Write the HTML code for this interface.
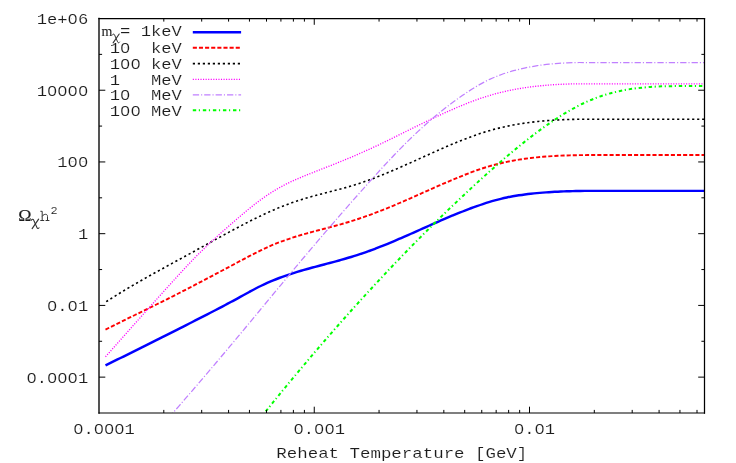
<!DOCTYPE html>
<html><head><meta charset="utf-8"><title>Relic density vs reheat temperature</title>
<style>html,body{margin:0;padding:0;background:#fff;}svg{display:block;}text{font-family:"Liberation Mono",monospace;fill:#1c1c1c;stroke:#fff;stroke-width:0.12px;}.ser{font-family:"Liberation Serif",serif;}</style>
</head><body>
<svg width="736" height="463" viewBox="0 0 736 463">
<rect x="0" y="0" width="736" height="463" fill="#ffffff"/>
<defs><clipPath id="clip"><rect x="99.00" y="18.50" width="605.50" height="394.50"/></clipPath></defs>
<g clip-path="url(#clip)" fill="none" stroke-linejoin="round">
<path d="M105.50 365.30 C107.50 364.34 109.49 363.37 111.49 362.39 C113.49 361.42 115.48 360.44 117.48 359.47 C119.48 358.49 121.47 357.51 123.47 356.53 C125.47 355.55 127.46 354.56 129.46 353.58 C131.46 352.59 133.45 351.60 135.45 350.61 C137.45 349.62 139.44 348.63 141.44 347.64 C143.44 346.65 145.43 345.65 147.43 344.65 C149.43 343.66 151.42 342.66 153.42 341.66 C155.42 340.66 157.41 339.66 159.41 338.65 C161.41 337.65 163.40 336.65 165.40 335.64 C167.40 334.63 169.39 333.63 171.39 332.62 C173.39 331.61 175.38 330.60 177.38 329.59 C179.38 328.58 181.37 327.57 183.37 326.55 C185.37 325.54 187.36 324.53 189.36 323.51 C191.36 322.49 193.35 321.48 195.35 320.46 C197.35 319.44 199.34 318.43 201.34 317.41 C203.34 316.39 205.33 315.36 207.33 314.34 C209.33 313.31 211.32 312.29 213.32 311.25 C215.32 310.22 217.31 309.18 219.31 308.14 C221.31 307.09 223.30 306.04 225.30 304.99 C227.30 303.93 229.29 302.87 231.29 301.79 C233.29 300.72 235.28 299.64 237.28 298.55 C239.28 297.46 241.27 296.35 243.27 295.26 C245.27 294.16 247.26 293.05 249.26 291.97 C251.26 290.89 253.25 289.81 255.25 288.78 C257.25 287.74 259.24 286.72 261.24 285.75 C263.24 284.77 265.23 283.84 267.23 282.94 C269.23 282.05 271.22 281.20 273.22 280.37 C275.22 279.55 277.21 278.77 279.21 278.01 C281.21 277.26 283.20 276.53 285.20 275.83 C287.20 275.13 289.19 274.46 291.19 273.81 C293.19 273.16 295.18 272.53 297.18 271.92 C299.18 271.32 301.17 270.73 303.17 270.15 C305.17 269.57 307.16 269.01 309.16 268.46 C311.16 267.91 313.15 267.37 315.15 266.83 C317.15 266.29 319.14 265.77 321.14 265.24 C323.14 264.71 325.13 264.19 327.13 263.66 C329.13 263.14 331.12 262.61 333.12 262.08 C335.12 261.54 337.11 261.01 339.11 260.46 C341.11 259.91 343.10 259.35 345.10 258.77 C347.10 258.20 349.09 257.62 351.09 257.01 C353.09 256.41 355.08 255.78 357.08 255.14 C359.08 254.50 361.07 253.83 363.07 253.14 C365.07 252.46 367.06 251.74 369.06 251.02 C371.06 250.29 373.05 249.55 375.05 248.78 C377.05 248.02 379.04 247.24 381.04 246.45 C383.04 245.66 385.03 244.85 387.03 244.03 C389.03 243.21 391.02 242.38 393.02 241.54 C395.02 240.70 397.01 239.85 399.01 238.99 C401.01 238.13 403.00 237.26 405.00 236.39 C407.00 235.51 408.99 234.63 410.99 233.75 C412.99 232.87 414.98 231.98 416.98 231.09 C418.98 230.20 420.97 229.31 422.97 228.42 C424.97 227.53 426.96 226.64 428.96 225.75 C430.96 224.87 432.95 223.98 434.95 223.10 C436.95 222.23 438.94 221.35 440.94 220.48 C442.94 219.61 444.93 218.75 446.93 217.90 C448.93 217.05 450.92 216.20 452.92 215.37 C454.92 214.54 456.91 213.72 458.91 212.91 C460.91 212.11 462.90 211.31 464.90 210.54 C466.90 209.76 468.89 209.00 470.89 208.25 C472.89 207.51 474.88 206.79 476.88 206.09 C478.88 205.39 480.87 204.70 482.87 204.05 C484.87 203.40 486.86 202.76 488.86 202.16 C490.86 201.55 492.85 200.97 494.85 200.43 C496.85 199.88 498.84 199.36 500.84 198.87 C502.84 198.39 504.83 197.93 506.83 197.51 C508.83 197.09 510.82 196.69 512.82 196.33 C514.82 195.96 516.81 195.62 518.81 195.31 C520.81 195.00 522.80 194.71 524.80 194.45 C526.80 194.19 528.79 193.94 530.79 193.72 C532.79 193.50 534.78 193.29 536.78 193.11 C538.78 192.92 540.77 192.75 542.77 192.60 C544.77 192.44 546.76 192.30 548.76 192.17 C550.76 192.04 552.75 191.93 554.75 191.82 C556.75 191.71 558.74 191.61 560.74 191.53 C562.74 191.44 564.73 191.36 566.73 191.29 C568.73 191.22 570.72 191.16 572.72 191.11 C574.72 191.05 576.71 191.01 578.71 190.97 C580.71 190.93 582.70 190.87 584.70 190.87 C586.70 190.87 588.69 190.87 590.69 190.87 C592.69 190.87 594.68 190.87 596.68 190.87 C598.68 190.87 600.67 190.87 602.67 190.87 C604.67 190.87 606.66 190.87 608.66 190.87 C610.66 190.87 612.65 190.87 614.65 190.87 C616.65 190.87 618.64 190.87 620.64 190.87 C622.64 190.87 624.63 190.87 626.63 190.87 C628.63 190.87 630.62 190.87 632.62 190.87 C634.62 190.87 636.61 190.87 638.61 190.87 C640.61 190.87 642.60 190.87 644.60 190.87 C646.60 190.87 648.59 190.87 650.59 190.87 C652.59 190.87 654.58 190.87 656.58 190.87 C658.58 190.87 660.57 190.87 662.57 190.87 C664.57 190.87 666.56 190.87 668.56 190.87 C670.56 190.87 672.55 190.87 674.55 190.87 C676.55 190.87 678.54 190.87 680.54 190.87 C682.54 190.87 684.53 190.87 686.53 190.87 C688.53 190.87 690.52 190.87 692.52 190.87 C694.52 190.87 696.51 190.87 698.51 190.87 C700.51 190.87 702.50 190.87 704.50 190.87" stroke="#0000ff" stroke-width="2.45"/>
<path d="M105.50 329.58 C107.50 328.57 109.49 327.57 111.49 326.57 C113.49 325.58 115.48 324.58 117.48 323.59 C119.48 322.60 121.47 321.62 123.47 320.64 C125.47 319.65 127.46 318.67 129.46 317.70 C131.46 316.72 133.45 315.74 135.45 314.76 C137.45 313.79 139.44 312.81 141.44 311.84 C143.44 310.86 145.43 309.89 147.43 308.91 C149.43 307.93 151.42 306.95 153.42 305.97 C155.42 304.98 157.41 304.00 159.41 303.01 C161.41 302.02 163.40 301.03 165.40 300.03 C167.40 299.04 169.39 298.04 171.39 297.03 C173.39 296.02 175.38 295.01 177.38 293.99 C179.38 292.97 181.37 291.95 183.37 290.92 C185.37 289.90 187.36 288.86 189.36 287.83 C191.36 286.79 193.35 285.75 195.35 284.71 C197.35 283.67 199.34 282.62 201.34 281.58 C203.34 280.53 205.33 279.48 207.33 278.42 C209.33 277.37 211.32 276.31 213.32 275.26 C215.32 274.20 217.31 273.14 219.31 272.08 C221.31 271.02 223.30 269.96 225.30 268.90 C227.30 267.84 229.29 266.78 231.29 265.72 C233.29 264.65 235.28 263.59 237.28 262.53 C239.28 261.47 241.27 260.41 243.27 259.35 C245.27 258.30 247.26 257.25 249.26 256.21 C251.26 255.18 253.25 254.15 255.25 253.14 C257.25 252.14 259.24 251.15 261.24 250.19 C263.24 249.22 265.23 248.28 267.23 247.37 C269.23 246.47 271.22 245.58 273.22 244.74 C275.22 243.90 277.21 243.10 279.21 242.33 C281.21 241.55 283.20 240.82 285.20 240.11 C287.20 239.40 289.19 238.72 291.19 238.07 C293.19 237.41 295.18 236.78 297.18 236.17 C299.18 235.56 301.17 234.97 303.17 234.40 C305.17 233.82 307.16 233.27 309.16 232.72 C311.16 232.17 313.15 231.64 315.15 231.10 C317.15 230.57 319.14 230.05 321.14 229.53 C323.14 229.00 325.13 228.49 327.13 227.96 C329.13 227.44 331.12 226.91 333.12 226.38 C335.12 225.84 337.11 225.30 339.11 224.74 C341.11 224.19 343.10 223.62 345.10 223.04 C347.10 222.45 349.09 221.85 351.09 221.23 C353.09 220.61 355.08 219.97 357.08 219.31 C359.08 218.65 361.07 217.98 363.07 217.29 C365.07 216.60 367.06 215.89 369.06 215.17 C371.06 214.45 373.05 213.71 375.05 212.96 C377.05 212.21 379.04 211.44 381.04 210.65 C383.04 209.87 385.03 209.07 387.03 208.26 C389.03 207.45 391.02 206.62 393.02 205.79 C395.02 204.95 397.01 204.10 399.01 203.25 C401.01 202.39 403.00 201.53 405.00 200.66 C407.00 199.79 408.99 198.91 410.99 198.03 C412.99 197.15 414.98 196.26 416.98 195.38 C418.98 194.49 420.97 193.60 422.97 192.71 C424.97 191.82 426.96 190.93 428.96 190.04 C430.96 189.15 432.95 188.26 434.95 187.38 C436.95 186.50 438.94 185.62 440.94 184.75 C442.94 183.88 444.93 183.01 446.93 182.16 C448.93 181.30 450.92 180.45 452.92 179.61 C454.92 178.77 456.91 177.94 458.91 177.13 C460.91 176.32 462.90 175.52 464.90 174.74 C466.90 173.95 468.89 173.18 470.89 172.44 C472.89 171.70 474.88 170.97 476.88 170.27 C478.88 169.57 480.87 168.89 482.87 168.25 C484.87 167.60 486.86 166.97 488.86 166.38 C490.86 165.80 492.85 165.23 494.85 164.71 C496.85 164.18 498.84 163.68 500.84 163.21 C502.84 162.74 504.83 162.29 506.83 161.88 C508.83 161.46 510.82 161.07 512.82 160.71 C514.82 160.34 516.81 160.00 518.81 159.68 C520.81 159.36 522.80 159.06 524.80 158.78 C526.80 158.51 528.79 158.25 530.79 158.01 C532.79 157.77 534.78 157.55 536.78 157.35 C538.78 157.15 540.77 156.97 542.77 156.80 C544.77 156.63 546.76 156.48 548.76 156.34 C550.76 156.20 552.75 156.07 554.75 155.96 C556.75 155.85 558.74 155.75 560.74 155.67 C562.74 155.58 564.73 155.51 566.73 155.44 C568.73 155.38 570.72 155.32 572.72 155.27 C574.72 155.23 576.71 155.19 578.71 155.16 C580.71 155.13 582.70 155.10 584.70 155.09 C586.70 155.07 588.69 155.05 590.69 155.05 C592.69 155.04 594.68 155.03 596.68 155.03 C598.68 155.03 600.67 155.03 602.67 155.03 C604.67 155.03 606.66 155.03 608.66 155.03 C610.66 155.03 612.65 155.03 614.65 155.03 C616.65 155.03 618.64 155.03 620.64 155.03 C622.64 155.03 624.63 155.03 626.63 155.03 C628.63 155.03 630.62 155.03 632.62 155.03 C634.62 155.03 636.61 155.03 638.61 155.03 C640.61 155.03 642.60 155.02 644.60 155.02 C646.60 155.01 648.59 155.01 650.59 155.00 C652.59 155.00 654.58 155.00 656.58 155.00 C658.58 155.00 660.57 155.00 662.57 155.00 C664.57 155.00 666.56 155.00 668.56 155.00 C670.56 155.00 672.55 155.00 674.55 155.00 C676.55 155.00 678.54 155.00 680.54 155.00 C682.54 155.00 684.53 155.00 686.53 155.00 C688.53 155.00 690.52 155.00 692.52 155.00 C694.52 155.00 696.51 155.00 698.51 155.00 C700.51 155.00 702.50 155.00 704.50 155.00" stroke="#ff0000" stroke-width="1.90" stroke-dasharray="4.1 2.03"/>
<path d="M106.20 301.68 C108.19 300.40 110.19 299.12 112.18 297.87 C114.18 296.61 116.17 295.37 118.17 294.15 C120.16 292.92 122.15 291.71 124.15 290.51 C126.14 289.31 128.14 288.12 130.13 286.95 C132.13 285.77 134.12 284.61 136.12 283.45 C138.11 282.30 140.10 281.15 142.10 280.02 C144.09 278.88 146.09 277.75 148.08 276.63 C150.08 275.51 152.07 274.40 154.06 273.29 C156.06 272.18 158.05 271.08 160.05 269.98 C162.04 268.88 164.04 267.78 166.03 266.69 C168.02 265.60 170.02 264.51 172.01 263.42 C174.01 262.33 176.00 261.25 178.00 260.16 C179.99 259.07 181.98 257.99 183.98 256.90 C185.97 255.81 187.97 254.72 189.96 253.63 C191.96 252.53 193.95 251.44 195.94 250.34 C197.94 249.24 199.93 248.14 201.93 247.03 C203.92 245.93 205.92 244.83 207.91 243.72 C209.91 242.62 211.90 241.52 213.89 240.42 C215.89 239.32 217.88 238.22 219.88 237.13 C221.87 236.04 223.87 234.95 225.86 233.86 C227.85 232.78 229.85 231.70 231.84 230.63 C233.84 229.56 235.83 228.50 237.83 227.44 C239.82 226.39 241.81 225.35 243.81 224.31 C245.80 223.28 247.80 222.25 249.79 221.24 C251.79 220.23 253.78 219.23 255.77 218.25 C257.77 217.27 259.76 216.30 261.76 215.36 C263.75 214.41 265.75 213.48 267.74 212.57 C269.74 211.66 271.73 210.77 273.72 209.90 C275.72 209.04 277.71 208.19 279.71 207.38 C281.70 206.56 283.70 205.77 285.69 205.00 C287.68 204.24 289.68 203.50 291.67 202.80 C293.67 202.09 295.66 201.42 297.66 200.76 C299.65 200.11 301.64 199.49 303.64 198.88 C305.63 198.28 307.63 197.69 309.62 197.13 C311.62 196.56 313.61 196.02 315.61 195.48 C317.60 194.94 319.59 194.42 321.59 193.90 C323.58 193.38 325.58 192.87 327.57 192.36 C329.57 191.85 331.56 191.34 333.55 190.82 C335.55 190.31 337.54 189.79 339.54 189.25 C341.53 188.72 343.53 188.18 345.52 187.62 C347.51 187.06 349.51 186.48 351.50 185.88 C353.50 185.28 355.49 184.66 357.49 184.02 C359.48 183.37 361.47 182.70 363.47 182.01 C365.46 181.32 367.46 180.60 369.45 179.87 C371.45 179.14 373.44 178.39 375.43 177.62 C377.43 176.85 379.42 176.07 381.42 175.27 C383.41 174.47 385.41 173.65 387.40 172.82 C389.40 171.99 391.39 171.15 393.38 170.30 C395.38 169.44 397.37 168.58 399.37 167.70 C401.36 166.83 403.36 165.94 405.35 165.06 C407.34 164.17 409.34 163.27 411.33 162.37 C413.33 161.47 415.32 160.57 417.32 159.66 C419.31 158.76 421.30 157.85 423.30 156.95 C425.29 156.04 427.29 155.14 429.28 154.24 C431.28 153.34 433.27 152.44 435.26 151.55 C437.26 150.66 439.25 149.77 441.25 148.89 C443.24 148.02 445.24 147.15 447.23 146.29 C449.23 145.44 451.22 144.59 453.21 143.76 C455.21 142.92 457.20 142.10 459.20 141.30 C461.19 140.50 463.19 139.71 465.18 138.94 C467.17 138.17 469.17 137.42 471.16 136.69 C473.16 135.96 475.15 135.25 477.15 134.56 C479.14 133.88 481.13 133.21 483.13 132.57 C485.12 131.94 487.12 131.32 489.11 130.74 C491.11 130.16 493.10 129.60 495.09 129.08 C497.09 128.55 499.08 128.05 501.08 127.58 C503.07 127.11 505.07 126.66 507.06 126.23 C509.06 125.81 511.05 125.41 513.04 125.04 C515.04 124.66 517.03 124.31 519.03 123.98 C521.02 123.65 523.02 123.34 525.01 123.05 C527.00 122.77 529.00 122.50 530.99 122.25 C532.99 122.00 534.98 121.77 536.98 121.56 C538.97 121.35 540.96 121.16 542.96 120.98 C544.95 120.80 546.95 120.64 548.94 120.49 C550.94 120.35 552.93 120.22 554.92 120.10 C556.92 119.98 558.91 119.88 560.91 119.78 C562.90 119.69 564.90 119.61 566.89 119.54 C568.89 119.48 570.88 119.41 572.87 119.37 C574.87 119.32 576.86 119.27 578.86 119.25 C580.85 119.22 582.85 119.20 584.84 119.20 C586.83 119.20 588.83 119.20 590.82 119.20 C592.82 119.20 594.81 119.20 596.81 119.20 C598.80 119.20 600.79 119.20 602.79 119.20 C604.78 119.20 606.78 119.20 608.77 119.20 C610.77 119.20 612.76 119.20 614.75 119.20 C616.75 119.20 618.74 119.20 620.74 119.20 C622.73 119.20 624.73 119.20 626.72 119.20 C628.72 119.20 630.71 119.20 632.70 119.20 C634.70 119.20 636.69 119.20 638.69 119.20 C640.68 119.20 642.68 119.20 644.67 119.20 C646.66 119.20 648.66 119.20 650.65 119.20 C652.65 119.20 654.64 119.20 656.64 119.20 C658.63 119.20 660.62 119.20 662.62 119.20 C664.61 119.20 666.61 119.20 668.60 119.20 C670.60 119.20 672.59 119.20 674.59 119.20 C676.58 119.20 678.57 119.20 680.57 119.20 C682.56 119.20 684.56 119.20 686.55 119.20 C688.55 119.20 690.54 119.20 692.53 119.20 C694.53 119.20 696.52 119.20 698.52 119.20 C700.51 119.20 702.51 119.20 704.50 119.20" stroke="#000000" stroke-width="1.60" stroke-dasharray="2.2 2.8"/>
<path d="M105.50 356.79 C107.50 354.53 109.49 352.28 111.49 350.02 C113.49 347.77 115.48 345.52 117.48 343.26 C119.48 341.01 121.47 338.75 123.47 336.50 C125.47 334.25 127.46 332.00 129.46 329.75 C131.46 327.50 133.45 325.26 135.45 323.01 C137.45 320.77 139.44 318.52 141.44 316.28 C143.44 314.04 145.43 311.80 147.43 309.57 C149.43 307.34 151.42 305.11 153.42 302.88 C155.42 300.65 157.41 298.43 159.41 296.21 C161.41 293.99 163.40 291.77 165.40 289.56 C167.40 287.35 169.39 285.15 171.39 282.95 C173.39 280.75 175.38 278.55 177.38 276.37 C179.38 274.18 181.37 272.00 183.37 269.85 C185.37 267.69 187.36 265.55 189.36 263.45 C191.36 261.35 193.35 259.27 195.35 257.23 C197.35 255.20 199.34 253.20 201.34 251.25 C203.34 249.29 205.33 247.37 207.33 245.48 C209.33 243.59 211.32 241.73 213.32 239.89 C215.32 238.05 217.31 236.25 219.31 234.46 C221.31 232.66 223.30 230.90 225.30 229.14 C227.30 227.38 229.29 225.64 231.29 223.90 C233.29 222.16 235.28 220.43 237.28 218.72 C239.28 217.00 241.27 215.29 243.27 213.61 C245.27 211.93 247.26 210.26 249.26 208.64 C251.26 207.02 253.25 205.42 255.25 203.87 C257.25 202.33 259.24 200.81 261.24 199.37 C263.24 197.92 265.23 196.52 267.23 195.18 C269.23 193.84 271.22 192.55 273.22 191.32 C275.22 190.09 277.21 188.91 279.21 187.78 C281.21 186.65 283.20 185.57 285.20 184.55 C287.20 183.52 289.19 182.55 291.19 181.61 C293.19 180.67 295.18 179.78 297.18 178.91 C299.18 178.05 301.17 177.22 303.17 176.40 C305.17 175.58 307.16 174.78 309.16 173.99 C311.16 173.20 313.15 172.42 315.15 171.63 C317.15 170.85 319.14 170.08 321.14 169.30 C323.14 168.52 325.13 167.74 327.13 166.96 C329.13 166.18 331.12 165.39 333.12 164.60 C335.12 163.80 337.11 163.00 339.11 162.19 C341.11 161.38 343.10 160.56 345.10 159.74 C347.10 158.91 349.09 158.07 351.09 157.23 C353.09 156.38 355.08 155.53 357.08 154.66 C359.08 153.79 361.07 152.92 363.07 152.03 C365.07 151.15 367.06 150.25 369.06 149.34 C371.06 148.43 373.05 147.51 375.05 146.58 C377.05 145.65 379.04 144.71 381.04 143.76 C383.04 142.80 385.03 141.83 387.03 140.86 C389.03 139.88 391.02 138.89 393.02 137.90 C395.02 136.91 397.01 135.92 399.01 134.92 C401.01 133.93 403.00 132.93 405.00 131.94 C407.00 130.95 408.99 129.96 410.99 128.98 C412.99 128.00 414.98 127.02 416.98 126.04 C418.98 125.07 420.97 124.10 422.97 123.13 C424.97 122.17 426.96 121.20 428.96 120.25 C430.96 119.30 432.95 118.35 434.95 117.41 C436.95 116.47 438.94 115.54 440.94 114.62 C442.94 113.70 444.93 112.78 446.93 111.88 C448.93 110.99 450.92 110.10 452.92 109.23 C454.92 108.36 456.91 107.50 458.91 106.66 C460.91 105.82 462.90 105.00 464.90 104.20 C466.90 103.40 468.89 102.61 470.89 101.85 C472.89 101.09 474.88 100.35 476.88 99.64 C478.88 98.93 480.87 98.24 482.87 97.59 C484.87 96.93 486.86 96.29 488.86 95.69 C490.86 95.09 492.85 94.52 494.85 93.97 C496.85 93.43 498.84 92.91 500.84 92.42 C502.84 91.93 504.83 91.47 506.83 91.03 C508.83 90.59 510.82 90.18 512.82 89.79 C514.82 89.40 516.81 89.03 518.81 88.69 C520.81 88.35 522.80 88.03 524.80 87.73 C526.80 87.43 528.79 87.15 530.79 86.89 C532.79 86.64 534.78 86.40 536.78 86.18 C538.78 85.96 540.77 85.75 542.77 85.57 C544.77 85.38 546.76 85.21 548.76 85.06 C550.76 84.91 552.75 84.77 554.75 84.65 C556.75 84.53 558.74 84.41 560.74 84.32 C562.74 84.22 564.73 84.14 566.73 84.07 C568.73 83.99 570.72 83.92 572.72 83.88 C574.72 83.84 576.71 83.80 578.71 83.80 C580.71 83.80 582.70 83.80 584.70 83.80 C586.70 83.80 588.69 83.80 590.69 83.80 C592.69 83.80 594.68 83.80 596.68 83.80 C598.68 83.80 600.67 83.80 602.67 83.80 C604.67 83.80 606.66 83.80 608.66 83.80 C610.66 83.80 612.65 83.80 614.65 83.80 C616.65 83.80 618.64 83.80 620.64 83.80 C622.64 83.80 624.63 83.80 626.63 83.80 C628.63 83.80 630.62 83.80 632.62 83.80 C634.62 83.80 636.61 83.80 638.61 83.80 C640.61 83.80 642.60 83.80 644.60 83.80 C646.60 83.80 648.59 83.80 650.59 83.80 C652.59 83.80 654.58 83.80 656.58 83.80 C658.58 83.80 660.57 83.80 662.57 83.80 C664.57 83.80 666.56 83.80 668.56 83.80 C670.56 83.80 672.55 83.80 674.55 83.80 C676.55 83.80 678.54 83.80 680.54 83.80 C682.54 83.80 684.53 83.80 686.53 83.80 C688.53 83.80 690.52 83.80 692.52 83.80 C694.52 83.80 696.51 83.80 698.51 83.80 C700.51 83.80 702.50 83.80 704.50 83.80" stroke="#ff00ff" stroke-width="1.35" stroke-dasharray="1.1 1.46"/>
<path d="M161.40 426.21 L173.40 412.45 C175.39 410.17 177.38 407.88 179.37 405.59 C181.36 403.30 183.35 401.00 185.33 398.70 C187.32 396.40 189.31 394.10 191.30 391.79 C193.29 389.48 195.28 387.16 197.27 384.84 C199.26 382.52 201.25 380.20 203.24 377.87 C205.23 375.54 207.22 373.20 209.20 370.86 C211.19 368.53 213.18 366.18 215.17 363.83 C217.16 361.48 219.15 359.13 221.14 356.77 C223.13 354.41 225.12 352.05 227.11 349.68 C229.10 347.32 231.09 344.94 233.07 342.57 C235.06 340.19 237.05 337.81 239.04 335.42 C241.03 333.03 243.02 330.64 245.01 328.25 C247.00 325.85 248.99 323.45 250.98 321.06 C252.97 318.66 254.95 316.25 256.94 313.85 C258.93 311.45 260.92 309.04 262.91 306.64 C264.90 304.23 266.89 301.83 268.88 299.43 C270.87 297.02 272.86 294.62 274.85 292.22 C276.84 289.82 278.82 287.42 280.81 285.03 C282.80 282.63 284.79 280.24 286.78 277.86 C288.77 275.47 290.76 273.09 292.75 270.71 C294.74 268.33 296.73 265.96 298.72 263.59 C300.70 261.22 302.69 258.86 304.68 256.50 C306.67 254.14 308.66 251.79 310.65 249.44 C312.64 247.09 314.63 244.75 316.62 242.41 C318.61 240.08 320.60 237.75 322.59 235.42 C324.57 233.10 326.56 230.78 328.55 228.47 C330.54 226.15 332.53 223.85 334.52 221.55 C336.51 219.25 338.50 216.96 340.49 214.67 C342.48 212.38 344.47 210.10 346.46 207.83 C348.44 205.56 350.43 203.29 352.42 201.03 C354.41 198.77 356.40 196.52 358.39 194.28 C360.38 192.03 362.37 189.80 364.36 187.57 C366.35 185.34 368.34 183.12 370.32 180.90 C372.31 178.69 374.30 176.49 376.29 174.30 C378.28 172.11 380.27 169.93 382.26 167.78 C384.25 165.62 386.24 163.47 388.23 161.35 C390.22 159.23 392.21 157.12 394.19 155.04 C396.18 152.96 398.17 150.91 400.16 148.88 C402.15 146.85 404.14 144.84 406.13 142.87 C408.12 140.90 410.11 138.95 412.10 137.04 C414.09 135.13 416.07 133.25 418.06 131.40 C420.05 129.55 422.04 127.73 424.03 125.94 C426.02 124.15 428.01 122.39 430.00 120.67 C431.99 118.95 433.98 117.25 435.97 115.59 C437.96 113.93 439.94 112.30 441.93 110.71 C443.92 109.11 445.91 107.55 447.90 106.02 C449.89 104.49 451.88 103.00 453.87 101.53 C455.86 100.07 457.85 98.64 459.84 97.25 C461.83 95.85 463.81 94.49 465.80 93.17 C467.79 91.84 469.78 90.54 471.77 89.29 C473.76 88.04 475.75 86.82 477.74 85.66 C479.73 84.51 481.72 83.38 483.71 82.34 C485.69 81.29 487.68 80.29 489.67 79.36 C491.66 78.44 493.65 77.57 495.64 76.76 C497.63 75.95 499.62 75.20 501.61 74.49 C503.60 73.78 505.59 73.12 507.58 72.49 C509.56 71.86 511.55 71.27 513.54 70.72 C515.53 70.17 517.52 69.65 519.51 69.17 C521.50 68.68 523.49 68.23 525.48 67.81 C527.47 67.39 529.46 67.00 531.44 66.65 C533.43 66.29 535.42 65.95 537.41 65.65 C539.40 65.35 541.39 65.07 543.38 64.82 C545.37 64.57 547.36 64.34 549.35 64.13 C551.34 63.93 553.33 63.74 555.31 63.58 C557.30 63.42 559.29 63.27 561.28 63.15 C563.27 63.03 565.26 62.92 567.25 62.83 C569.24 62.74 571.23 62.65 573.22 62.60 C575.21 62.55 577.20 62.50 579.18 62.50 C581.17 62.50 583.16 62.50 585.15 62.50 C587.14 62.50 589.13 62.50 591.12 62.50 C593.11 62.50 595.10 62.50 597.09 62.50 C599.08 62.50 601.06 62.50 603.05 62.50 C605.04 62.50 607.03 62.50 609.02 62.50 C611.01 62.50 613.00 62.50 614.99 62.50 C616.98 62.50 618.97 62.50 620.96 62.50 C622.95 62.50 624.93 62.50 626.92 62.50 C628.91 62.50 630.90 62.50 632.89 62.50 C634.88 62.50 636.87 62.50 638.86 62.50 C640.85 62.50 642.84 62.50 644.83 62.50 C646.81 62.50 648.80 62.50 650.79 62.50 C652.78 62.50 654.77 62.50 656.76 62.50 C658.75 62.50 660.74 62.50 662.73 62.50 C664.72 62.50 666.71 62.50 668.70 62.50 C670.68 62.50 672.67 62.50 674.66 62.50 C676.65 62.50 678.64 62.50 680.63 62.50 C682.62 62.50 684.61 62.50 686.60 62.50 C688.59 62.50 690.58 62.50 692.57 62.50 C694.55 62.50 696.54 62.50 698.53 62.50 C700.52 62.50 702.51 62.50 704.50 62.50" stroke="#c080ff" stroke-width="1.25" stroke-dasharray="6.3 2.0 1.1 2.0"/>
<path d="M253.10 427.10 L265.10 412.18 C267.11 409.68 269.11 407.19 271.12 404.72 C273.13 402.24 275.13 399.77 277.14 397.31 C279.14 394.85 281.15 392.40 283.16 389.96 C285.16 387.51 287.17 385.08 289.18 382.66 C291.18 380.23 293.19 377.82 295.20 375.41 C297.20 373.00 299.21 370.61 301.22 368.22 C303.22 365.83 305.23 363.45 307.23 361.08 C309.24 358.71 311.25 356.35 313.25 354.00 C315.26 351.65 317.27 349.30 319.27 346.97 C321.28 344.64 323.29 342.31 325.29 340.00 C327.30 337.68 329.30 335.38 331.31 333.08 C333.32 330.78 335.32 328.50 337.33 326.22 C339.34 323.94 341.34 321.67 343.35 319.41 C345.36 317.15 347.36 314.90 349.37 312.66 C351.37 310.42 353.38 308.19 355.39 305.96 C357.39 303.74 359.40 301.53 361.41 299.32 C363.41 297.12 365.42 294.92 367.43 292.74 C369.43 290.55 371.44 288.38 373.45 286.21 C375.45 284.05 377.46 281.89 379.46 279.74 C381.47 277.59 383.48 275.45 385.48 273.33 C387.49 271.20 389.50 269.08 391.50 266.97 C393.51 264.86 395.52 262.76 397.52 260.67 C399.53 258.57 401.53 256.49 403.54 254.42 C405.55 252.35 407.55 250.29 409.56 248.23 C411.57 246.18 413.57 244.14 415.58 242.10 C417.59 240.07 419.59 238.05 421.60 236.03 C423.61 234.02 425.61 232.01 427.62 230.02 C429.62 228.02 431.63 226.04 433.64 224.06 C435.64 222.09 437.65 220.12 439.66 218.16 C441.66 216.21 443.67 214.26 445.68 212.32 C447.68 210.39 449.69 208.46 451.69 206.54 C453.70 204.62 455.71 202.72 457.71 200.82 C459.72 198.92 461.73 197.03 463.73 195.15 C465.74 193.28 467.75 191.41 469.75 189.55 C471.76 187.69 473.76 185.84 475.77 184.00 C477.78 182.16 479.78 180.33 481.79 178.51 C483.80 176.69 485.80 174.88 487.81 173.09 C489.82 171.29 491.82 169.50 493.83 167.73 C495.84 165.96 497.84 164.20 499.85 162.46 C501.85 160.71 503.86 158.98 505.87 157.27 C507.87 155.56 509.88 153.86 511.89 152.19 C513.89 150.51 515.90 148.85 517.91 147.21 C519.91 145.57 521.92 143.95 523.92 142.35 C525.93 140.76 527.94 139.18 529.94 137.63 C531.95 136.08 533.96 134.55 535.96 133.04 C537.97 131.54 539.98 130.06 541.98 128.60 C543.99 127.15 545.99 125.72 548.00 124.33 C550.01 122.93 552.01 121.56 554.02 120.23 C556.03 118.90 558.03 117.59 560.04 116.32 C562.05 115.06 564.05 113.82 566.06 112.63 C568.07 111.44 570.07 110.27 572.08 109.16 C574.08 108.04 576.09 106.96 578.10 105.93 C580.10 104.90 582.11 103.90 584.12 102.96 C586.12 102.02 588.13 101.12 590.14 100.27 C592.14 99.42 594.15 98.62 596.15 97.87 C598.16 97.12 600.17 96.41 602.17 95.75 C604.18 95.09 606.19 94.47 608.19 93.90 C610.20 93.33 612.21 92.79 614.21 92.30 C616.22 91.81 618.23 91.35 620.23 90.93 C622.24 90.51 624.24 90.13 626.25 89.78 C628.26 89.43 630.26 89.10 632.27 88.82 C634.28 88.53 636.28 88.27 638.29 88.04 C640.30 87.81 642.30 87.60 644.31 87.42 C646.31 87.24 648.32 87.08 650.33 86.94 C652.33 86.81 654.34 86.69 656.35 86.59 C658.35 86.50 660.36 86.41 662.37 86.35 C664.37 86.29 666.38 86.23 668.38 86.20 C670.39 86.16 672.40 86.13 674.40 86.11 C676.41 86.10 678.42 86.09 680.42 86.09 C682.43 86.09 684.44 86.09 686.44 86.09 C688.45 86.09 690.46 86.09 692.46 86.09 C694.47 86.09 696.47 86.09 698.48 86.09 C700.49 86.09 702.49 86.09 704.50 86.09" stroke="#00ff00" stroke-width="2.00" stroke-dasharray="3.4 2.6 1.2 2.85"/>
</g>
<path d="M99.00 377.14 h6.30 M704.50 377.14 h-6.30 M99.00 341.27 h3.10 M704.50 341.27 h-3.10 M99.00 305.41 h6.30 M704.50 305.41 h-6.30 M99.00 269.55 h3.10 M704.50 269.55 h-3.10 M99.00 233.68 h6.30 M704.50 233.68 h-6.30 M99.00 197.82 h3.10 M704.50 197.82 h-3.10 M99.00 161.95 h6.30 M704.50 161.95 h-6.30 M99.00 126.09 h3.10 M704.50 126.09 h-3.10 M99.00 90.23 h6.30 M704.50 90.23 h-6.30 M99.00 54.36 h3.10 M704.50 54.36 h-3.10 M163.80 413.00 v-3.10 M163.80 18.50 v3.10 M201.70 413.00 v-3.10 M201.70 18.50 v3.10 M228.59 413.00 v-3.10 M228.59 18.50 v3.10 M249.45 413.00 v-3.10 M249.45 18.50 v3.10 M266.50 413.00 v-3.10 M266.50 18.50 v3.10 M280.91 413.00 v-3.10 M280.91 18.50 v3.10 M293.39 413.00 v-3.10 M293.39 18.50 v3.10 M304.40 413.00 v-3.10 M304.40 18.50 v3.10 M314.25 413.00 v-6.30 M314.25 18.50 v6.30 M379.05 413.00 v-3.10 M379.05 18.50 v3.10 M416.95 413.00 v-3.10 M416.95 18.50 v3.10 M443.84 413.00 v-3.10 M443.84 18.50 v3.10 M464.70 413.00 v-3.10 M464.70 18.50 v3.10 M481.75 413.00 v-3.10 M481.75 18.50 v3.10 M496.16 413.00 v-3.10 M496.16 18.50 v3.10 M508.64 413.00 v-3.10 M508.64 18.50 v3.10 M519.65 413.00 v-3.10 M519.65 18.50 v3.10 M529.50 413.00 v-6.30 M529.50 18.50 v6.30 M594.30 413.00 v-3.10 M594.30 18.50 v3.10 M632.20 413.00 v-3.10 M632.20 18.50 v3.10 M659.09 413.00 v-3.10 M659.09 18.50 v3.10 M679.95 413.00 v-3.10 M679.95 18.50 v3.10 M697.00 413.00 v-3.10 M697.00 18.50 v3.10" stroke="#000" stroke-width="1" fill="none"/>
<g fill="none" stroke="#000" stroke-linecap="square">
<path d="M99.00 18.50 H704.50" stroke-width="1.25"/>
<path d="M704.50 18.50 V413.00" stroke-width="1.25"/>
<path d="M99.00 413.00 H704.50" stroke-width="1.05"/>
<path d="M99.00 18.50 V413.00" stroke-width="1.35"/>
</g>
<defs><filter id="noaa" filterUnits="userSpaceOnUse" x="0" y="0" width="736" height="463"><feOffset dx="0" dy="0"/></filter></defs>
<g filter="url(#noaa)">
<text transform="translate(88.20 24.00) scale(1.2262 1)" font-size="14.00" text-anchor="end" xml:space="preserve">1e+06</text><ellipse cx="72.75" cy="19.37" rx="1.46" ry="1.89" fill="#fff"/>
<text transform="translate(88.20 95.73) scale(1.2262 1)" font-size="14.00" text-anchor="end" xml:space="preserve">10000</text><ellipse cx="52.14" cy="91.09" rx="1.46" ry="1.89" fill="#fff"/><ellipse cx="62.45" cy="91.09" rx="1.46" ry="1.89" fill="#fff"/><ellipse cx="72.75" cy="91.09" rx="1.46" ry="1.89" fill="#fff"/><ellipse cx="83.05" cy="91.09" rx="1.46" ry="1.89" fill="#fff"/>
<text transform="translate(88.20 167.45) scale(1.2262 1)" font-size="14.00" text-anchor="end" xml:space="preserve">100</text><ellipse cx="72.75" cy="162.82" rx="1.46" ry="1.89" fill="#fff"/><ellipse cx="83.05" cy="162.82" rx="1.46" ry="1.89" fill="#fff"/>
<text transform="translate(88.20 239.18) scale(1.2262 1)" font-size="14.00" text-anchor="end" xml:space="preserve">1</text>
<text transform="translate(88.20 310.91) scale(1.2262 1)" font-size="14.00" text-anchor="end" xml:space="preserve">0.01</text><ellipse cx="52.14" cy="306.28" rx="1.46" ry="1.89" fill="#fff"/><ellipse cx="72.75" cy="306.28" rx="1.46" ry="1.89" fill="#fff"/>
<text transform="translate(88.20 382.64) scale(1.2262 1)" font-size="14.00" text-anchor="end" xml:space="preserve">0.0001</text><ellipse cx="31.54" cy="378.00" rx="1.46" ry="1.89" fill="#fff"/><ellipse cx="52.14" cy="378.00" rx="1.46" ry="1.89" fill="#fff"/><ellipse cx="62.45" cy="378.00" rx="1.46" ry="1.89" fill="#fff"/><ellipse cx="72.75" cy="378.00" rx="1.46" ry="1.89" fill="#fff"/>
<text transform="translate(104.00 434.30) scale(1.1758 1)" font-size="14.60" text-anchor="middle" xml:space="preserve">0.0001</text><ellipse cx="78.25" cy="429.47" rx="1.46" ry="1.97" fill="#fff"/><ellipse cx="98.85" cy="429.47" rx="1.46" ry="1.97" fill="#fff"/><ellipse cx="109.15" cy="429.47" rx="1.46" ry="1.97" fill="#fff"/><ellipse cx="119.45" cy="429.47" rx="1.46" ry="1.97" fill="#fff"/>
<text transform="translate(319.25 434.30) scale(1.1758 1)" font-size="14.60" text-anchor="middle" xml:space="preserve">0.001</text><ellipse cx="298.65" cy="429.47" rx="1.46" ry="1.97" fill="#fff"/><ellipse cx="319.25" cy="429.47" rx="1.46" ry="1.97" fill="#fff"/><ellipse cx="329.55" cy="429.47" rx="1.46" ry="1.97" fill="#fff"/>
<text transform="translate(534.50 434.30) scale(1.1758 1)" font-size="14.60" text-anchor="middle" xml:space="preserve">0.01</text><ellipse cx="519.05" cy="429.47" rx="1.46" ry="1.97" fill="#fff"/><ellipse cx="539.65" cy="429.47" rx="1.46" ry="1.97" fill="#fff"/>
<text transform="translate(401.80 458.40) scale(1.2463 1)" font-size="14.00" text-anchor="middle" xml:space="preserve">Reheat Temperature [GeV]</text>
<text transform="translate(181.90 36.40) scale(1.2262 1)" font-size="14.00" text-anchor="end" xml:space="preserve">= 1keV</text>
<path d="M192.8 32.30 H241.1" stroke="#0000ff" stroke-width="2.45" fill="none"/>
<text transform="translate(181.90 53.20) scale(1.2262 1)" font-size="14.00" text-anchor="end" xml:space="preserve"> 10  keV</text><ellipse cx="125.24" cy="48.57" rx="1.46" ry="1.89" fill="#fff"/>
<path d="M192.8 47.80 H241.1" stroke="#ff0000" stroke-width="1.90" fill="none" stroke-dasharray="4.1 2.03"/>
<text transform="translate(181.90 68.50) scale(1.2262 1)" font-size="14.00" text-anchor="end" xml:space="preserve"> 100 keV</text><ellipse cx="125.24" cy="63.87" rx="1.46" ry="1.89" fill="#fff"/><ellipse cx="135.54" cy="63.87" rx="1.46" ry="1.89" fill="#fff"/>
<path d="M192.8 63.60 H241.1" stroke="#000000" stroke-width="1.60" fill="none" stroke-dasharray="2.2 2.8"/>
<text transform="translate(181.90 85.00) scale(1.2262 1)" font-size="14.00" text-anchor="end" xml:space="preserve"> 1   MeV</text>
<path d="M192.8 79.30 H241.1" stroke="#ff00ff" stroke-width="1.35" fill="none" stroke-dasharray="1.1 1.46"/>
<text transform="translate(181.90 100.30) scale(1.2262 1)" font-size="14.00" text-anchor="end" xml:space="preserve"> 10  MeV</text><ellipse cx="125.24" cy="95.67" rx="1.46" ry="1.89" fill="#fff"/>
<path d="M192.8 94.90 H241.1" stroke="#c080ff" stroke-width="1.25" fill="none" stroke-dasharray="6.3 2.0 1.1 2.0"/>
<text transform="translate(181.90 116.00) scale(1.2262 1)" font-size="14.00" text-anchor="end" xml:space="preserve"> 100 MeV</text><ellipse cx="125.24" cy="111.37" rx="1.46" ry="1.89" fill="#fff"/><ellipse cx="135.54" cy="111.37" rx="1.46" ry="1.89" fill="#fff"/>
<path d="M192.8 110.20 H241.1" stroke="#00ff00" stroke-width="2.00" fill="none" stroke-dasharray="3.4 2.6 1.2 2.85"/>
<text class="ser" transform="translate(101.60 35.80) scale(1.0000 1)" font-size="14.00" text-anchor="start" xml:space="preserve" style="stroke:#222;stroke-width:0.1px">m</text>
<g transform="translate(112.20 40.60) scale(1.000)" fill="none" stroke="#333" stroke-linecap="round"><path d="M7.0 -6.6 L0.9 2.3" stroke-width="1.1"/><path d="M0.2 -5.7 C0.7 -6.8 1.9 -6.9 2.4 -5.6 L5.4 1.3 C5.9 2.5 6.8 2.5 7.4 1.5" stroke-width="1.0"/></g>
<text class="ser" transform="translate(18.3 220.9) scale(1.1 1)" font-size="16.2" style="stroke:#222;stroke-width:0.16px">Ω</text>
<g transform="translate(31.20 226.20) scale(1.060)" fill="none" stroke="#333" stroke-linecap="round"><path d="M7.0 -6.6 L0.9 2.3" stroke-width="1.1"/><path d="M0.2 -5.7 C0.7 -6.8 1.9 -6.9 2.4 -5.6 L5.4 1.3 C5.9 2.5 6.8 2.5 7.4 1.5" stroke-width="1.0"/></g>
<path d="M40.4 211.3 H42.2 V220.5 M40.3 220.5 H44.2 M42.2 216.3 C43.2 214.7 44.6 214.3 45.6 214.3 C46.9 214.3 47.5 215.1 47.5 216.5 V220.5 M45.6 220.5 H49.4" fill="none" stroke="#333" stroke-width="1.0"/>
<text transform="translate(50.40 213.70) scale(1.1200 1)" font-size="10.60" text-anchor="start" xml:space="preserve">2</text>
</g>
</svg></body></html>
